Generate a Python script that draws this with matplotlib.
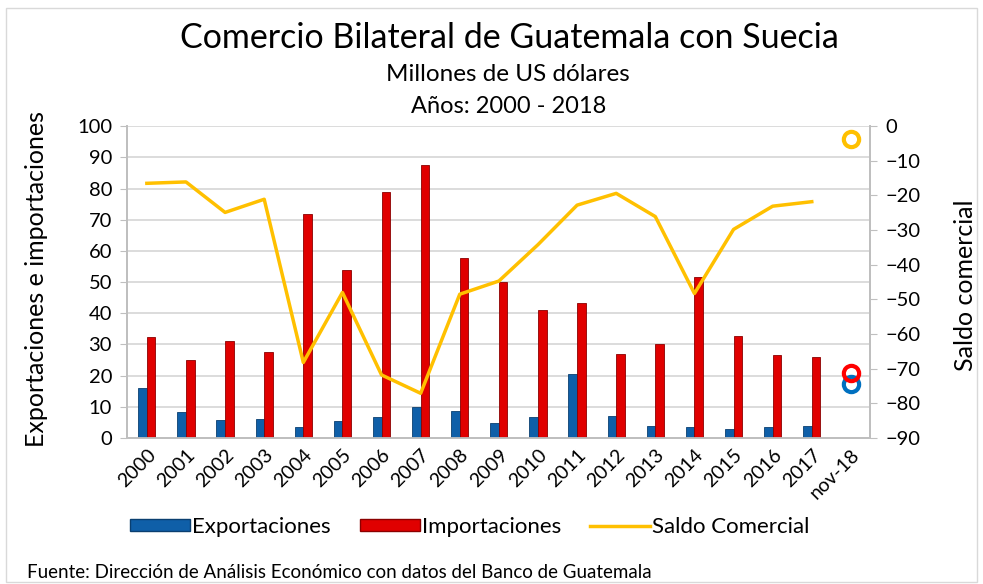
import matplotlib
matplotlib.use("Agg")
import matplotlib.pyplot as plt
import numpy as np
from matplotlib.patches import Rectangle, Patch
from matplotlib.lines import Line2D

plt.rcParams['font.family'] = ['Lato', 'DejaVu Sans']

categories = ['2000', '2001', '2002', '2003', '2004', '2005', '2006', '2007', '2008',
              '2009', '2010', '2011', '2012', '2013', '2014', '2015', '2016', '2017', 'nov-18']
exportaciones = [16.0, 8.2, 5.8, 6.1, 3.4, 5.4, 6.6, 10.0, 8.7, 4.8,
                 6.6, 20.4, 7.2, 4.0, 3.6, 2.8, 3.5, 3.9]
importaciones = [32.4, 24.9, 31.0, 27.5, 71.7, 53.9, 78.8, 87.4, 57.6, 49.9,
                 41.2, 43.2, 26.8, 30.3, 51.7, 32.7, 26.6, 26.0]
saldo = [-16.5, -16.1, -24.9, -21.1, -68.2, -48.0, -71.8, -77.1, -48.5, -44.7,
         -34.2, -22.8, -19.4, -26.1, -48.3, -29.8, -23.1, -21.8]
nov18_exp = 17.3
nov18_imp = 21.0
nov18_saldo = -3.7

fig = plt.figure(figsize=(9.83, 5.84), dpi=100)
fig.patches.append(Rectangle((0.006, 0.004), 0.988, 0.982, transform=fig.transFigure,
                             fill=False, edgecolor='#d9d9d9', linewidth=1))

ax = fig.add_axes([0.1295, 0.25, 0.756, 0.534])
ax2 = ax.twinx()

x = np.arange(len(categories))
xe = x[:len(exportaciones)]
w = 0.22
ax.bar(xe - w / 2, exportaciones, width=w, color='#0F5FA8', edgecolor='#0A3F70', linewidth=0.6, zorder=3)
ax.bar(xe + w / 2, importaciones, width=w, color='#E00000', edgecolor='#8B0000', linewidth=0.6, zorder=3)
ax.plot([x[-1]], [nov18_exp], marker='o', markersize=11, markerfacecolor='none',
        markeredgecolor='#0070C0', markeredgewidth=3, linestyle='none', zorder=4)
ax.plot([x[-1]], [nov18_imp], marker='o', markersize=11, markerfacecolor='none',
        markeredgecolor='#FF0000', markeredgewidth=3, linestyle='none', zorder=5)

ax2.plot(xe, saldo, color='#FFC000', linewidth=2.5, zorder=4)
ax2.plot([x[-1]], [nov18_saldo], marker='o', markersize=11, markerfacecolor='none',
         markeredgecolor='#FFC000', markeredgewidth=3, linestyle='none', zorder=5)

ax.set_xlim(-0.5, len(categories) - 0.5)
ax.set_ylim(0, 100)
ax2.set_ylim(-90, 0)
ax.set_yticks(np.arange(0, 101, 10))
ax2.set_yticks(np.arange(-90, 1, 10))
ax.set_xticks(x)
ax.set_xticklabels(categories, rotation=45, ha='right', rotation_mode='anchor', fontsize=14)
ax.tick_params(axis='x', length=0, pad=6)
ax.tick_params(axis='y', labelsize=14.5, length=5, color='#bfbfbf', pad=6)
ax2.tick_params(axis='y', labelsize=14.5, length=5, color='#bfbfbf', pad=6)
ax.grid(axis='y', color='#d9d9d9', linewidth=1.3, zorder=0)
ax.set_axisbelow(True)
for a in (ax, ax2):
    a.spines['top'].set_visible(False)
    for s in ['left', 'right', 'bottom']:
        a.spines[s].set_color('#bfbfbf')
        a.spines[s].set_linewidth(1.3)

ax.set_ylabel('Exportaciones e importaciones', fontsize=18)
ax2.set_ylabel('Saldo comercial', fontsize=18)
ax.yaxis.set_label_coords(-0.107, 0.51)
ax2.yaxis.set_label_coords(1.113, 0.49)

fig.text(0.518, 0.935, 'Comercio Bilateral de Guatemala con Suecia', ha='center', va='center', fontsize=24.5)
fig.text(0.517, 0.872, 'Millones de US dólares', ha='center', va='center', fontsize=17.5)
fig.text(0.517, 0.817, 'Años: 2000 - 2018', ha='center', va='center', fontsize=17)

handles = [Patch(facecolor='#0F5FA8', edgecolor='#0A3F70'),
           Patch(facecolor='#E00000', edgecolor='#8B0000'),
           Line2D([0], [0], color='#FFC000', linewidth=2.5)]
fig.legend(handles, ['Exportaciones', 'Importaciones', 'Saldo Comercial'],
           loc='center', bbox_to_anchor=(0.478, 0.097), ncol=3, frameon=False,
           fontsize=16, handlelength=2.7, handleheight=0.45, handletextpad=0.1, columnspacing=1.3)

fig.text(0.027, 0.019, 'Fuente: Dirección de Análisis Económico con datos del Banco de Guatemala',
         ha='left', va='center', fontsize=13.5)

fig.savefig('out.png', dpi=100)
